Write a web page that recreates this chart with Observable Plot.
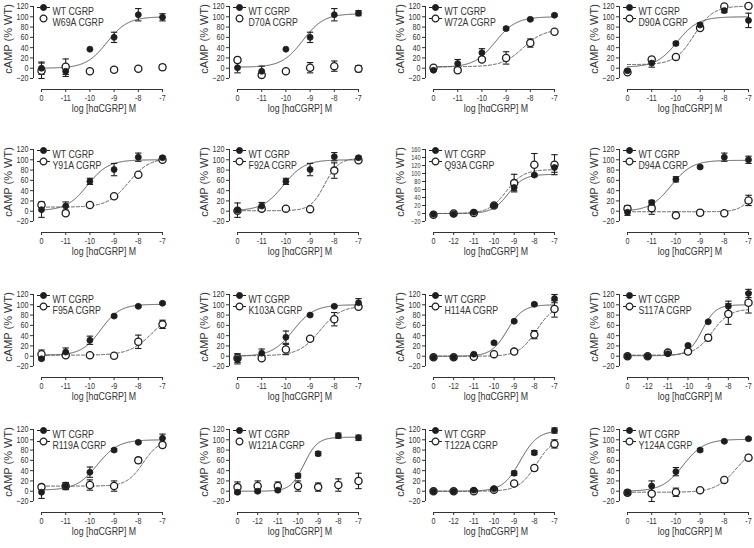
<!DOCTYPE html>
<html><head><meta charset="utf-8">
<script src="https://cdn.jsdelivr.net/npm/d3@7"></script>
<script src="https://cdn.jsdelivr.net/npm/@observablehq/plot@0.6"></script>
<style>
html,body{margin:0;padding:0;background:#fff;}
#fig{position:relative;width:754px;height:548px;overflow:hidden;background:#fff;font-family:"Liberation Sans",Arial,sans-serif;}
</style></head><body><div id="fig"></div>
<script>
// ---------- data ----------
const mutants = ["W69A","D70A","W72A","D90A","Y91A","F92A","Q93A","D94A","F95A","K103A","H114A","S117A","R119A","W121A","T122A","Y124A"];
const panelTicks = [6,6,6,6,6,6,7,6,6,6,7,7,6,7,7,6];
const panelYMax = [120,120,120,120,120,120,160,120,120,120,120,120,120,120,120,120];
const doseLabels6 = ["0","-11","-10","-9","-8","-7"];
const dosePos6 = [-12,-11,-10,-9,-8,-7];
const doseLabels7 = ["0","-12","-11","-10","-9","-8","-7"];
const dosePos7 = [-13,-12,-11,-10,-9,-8,-7];

const wtMean = [
  [0,-6,37,60,104,99],[1,-6,37,60,104,107],[-4,9,30,77,95,103],[-5,10,48,84,112,93],
  [3,10,58,81,105,104],[2,10,58,81,106,104],[-2,-1,3,20,65,96,115],[-2,17,62,86,105,100],
  [-5,8,31,78,97,103],[-5,6,37,80,97,104],[-2,-2,4,26,68,101,112],[0,0,5,21,67,97,122],
  [-2,10,37,80,95,103],[-2,0,2,30,73,108,104],[0,0,2,5,35,75,118],[-3,10,38,80,97,102]
];
const wtErr = [
  [12,10,0,10,12,7],[10,10,0,10,12,5],[2,8,8,3,2,2],[3,8,3,4,4,14],
  [15,8,6,12,8,3],[14,7,6,12,8,3],[2,2,2,3,8,3,12],[6,4,5,2,8,7],
  [2,8,8,2,2,2],[10,8,12,2,2,8],[2,2,2,2,2,2,8],[2,2,2,2,2,10,8],
  [12,6,10,3,2,8],[3,3,3,4,4,5,5],[2,2,2,2,4,4,5],[3,10,8,3,2,2]
];
const mutMean = [
  [-5,3,-6,-3,-1,2],[16,-13,-6,1,4,-1],[1,-4,17,20,49,71],[-8,17,22,78,120,121],
  [12,-4,12,29,71,100],[1,5,5,4,79,99],[-3,0,1,20,76,122,122],[5,6,-8,-3,-4,21],
  [4,2,2,1,28,62],[-4,-4,13,34,72,96],[-2,-2,-1,4,9,42,92],[0,0,7,9,36,82,104],
  [8,10,12,10,60,90],[8,10,10,10,8,12,20],[0,0,0,3,15,45,92],[-3,-5,-2,2,22,65]
];
const mutErr = [
  [15,15,2,4,2,5],[5,5,2,10,10,6],[2,3,3,12,8,2],[3,4,3,3,2,2],
  [3,3,3,2,3,2],[2,2,2,2,15,2],[2,2,2,2,22,28,25],[6,12,4,5,2,10],
  [8,2,2,2,13,8],[8,2,10,3,13,3],[2,2,2,2,2,8,16],[2,2,2,4,6,20,20],
  [5,7,10,10,5,5],[10,10,8,10,8,12,15],[2,2,2,2,3,5,8],[5,15,8,3,3,5]
];
// sigmoid fit parameters (null = no curve drawn)
const wtBottom = [0,2,2,2,1,1,0,0,2,0,0,1,2,0,0,0];
const wtTop    = [100,106,100,100,100,100,98,99,101,100,100,100,100,105,118,101];
const wtLogEC50= [-9.3,-9.3,-9.45,-9.95,-10.1,-10.1,-9.3,-10.2,-9.55,-9.7,-9.35,-9.3,-9.7,-9.7,-8.7,-9.7];
const wtHill   = [1,1,1,1,1,1,1.1,1,1.1,1,1.1,1.3,1,1.3,1,1];
const mutBottom = [null,null,3,7,8,1,0,-1,2,1,0,2,10,null,0,-2];
const mutTop    = [null,null,76,121,104,103,110,100,90,98,100,92,100,null,105,90];
const mutLogEC50= [null,null,-8.3,-9.25,-8.4,-8.4,-9.4,-6.65,-7.4,-8.6,-7.9,-8.8,-7.8,null,-7.9,-7.5];
const mutHill   = [null,null,1,1.1,1,1.5,1,1.5,0.9,1,1,1,1.3,null,1,1];

const xTitle = "log [hαCGRP] M";
const yTitle = "cAMP (% WT)";
const wtName = "WT CGRP";

// ---------- layout ----------
const W = 196, H = 140, TOP = 10, YPX = 72, XAX = 11, GAP = 8, FIRST = 41, LAST = 162;
const colLeft = [0, 196, 392, 586];
const rowTop = [6, 149, 294, 429];
const ink = "#1e1e1e", axisInk = "#333", lineInk = "#555";
const fig = document.getElementById("fig");

const capSym = {draw(ctx){ ctx.moveTo(-3.2,0); ctx.lineTo(3.2,0); }};
const legSym = (r, line) => ({draw(ctx){
  if (line) { ctx.moveTo(-6.5,0); ctx.lineTo(-r,0); ctx.moveTo(r,0); ctx.lineTo(6.5,0); }
  ctx.moveTo(r,0); ctx.arc(0,0,r,0,2*Math.PI); ctx.closePath();
}});

for (let i = 0; i < 16; i++) {
  const row = Math.floor(i/4), col = i % 4;
  const n = panelTicks[i];
  const pos = n === 6 ? dosePos6 : dosePos7;
  const labels = n === 6 ? doseLabels6 : doseLabels7;
  const yMax = panelYMax[i];
  const unitX = (n-1)/(LAST-FIRST);
  const unitY = (yMax+20)/YPX;
  const xFirst = pos[0], xLast = pos[pos.length-1];
  const xAxisPos = xFirst - GAP*unitX;
  const yAxisPos = -20 - XAX*unitY;
  const yTicks = d3.range(-20, yMax+1, 20);
  const yTickFont = yMax > 120 ? 7 : 9;

  const wt = pos.map((x,k) => ({x, y: wtMean[i][k], e: wtErr[i][k]}));
  const mut = pos.map((x,k) => ({x, y: mutMean[i][k], e: mutErr[i][k]}));
  const bars = wt.concat(mut).filter(d => d.e > 0);
  const caps = bars.flatMap(d => [{x: d.x, y: d.y - d.e}, {x: d.x, y: d.y + d.e}]);
  const curve = (b,t,ec,h) => d3.range(0,241).map(k => {
    const x = xFirst + (xLast-xFirst)*k/240;
    return {x, y: b + (t-b)/(1 + Math.pow(10, (ec - x)*h))};
  });
  const hasMutFit = mutBottom[i] !== null;

  const marks = [
    Plot.ruleX([xAxisPos], {y1: -20, y2: yMax, stroke: axisInk, strokeWidth: 1}),
    Plot.ruleY([yAxisPos], {x1: xFirst, x2: xLast, stroke: axisInk, strokeWidth: 1}),
    Plot.axisY({ticks: yTicks, tickSize: 3, tickPadding: 2, fontSize: yTickFont, stroke: axisInk, fill: axisInk, label: null}),
    Plot.axisX({ticks: pos, tickFormat: d => labels[pos.indexOf(d)], tickSize: 3, tickPadding: 2, fontSize: 9, stroke: axisInk, fill: axisInk, label: null}),
    Plot.text([xTitle], {x: (xFirst+xLast)/2, frameAnchor: "bottom", dy: 22, dx: 2, fontSize: 11, fill: axisInk}),
    Plot.text([yTitle], {x: xAxisPos, y: -20 + (yMax+20)*0.55, dx: -25, rotate: -90, fontSize: 11, fill: axisInk}),
    Plot.line(curve(wtBottom[i], wtTop[i], wtLogEC50[i], wtHill[i]), {x: "x", y: "y", stroke: lineInk, strokeWidth: 1}),
    hasMutFit ? Plot.line(curve(mutBottom[i], mutTop[i], mutLogEC50[i], mutHill[i]), {x: "x", y: "y", stroke: lineInk, strokeWidth: 1, strokeDasharray: "3,2"}) : null,
    Plot.ruleX(bars, {x: "x", y1: d => d.y - d.e, y2: d => d.y + d.e, stroke: ink, strokeWidth: 1.1}),
    Plot.dot(caps, {x: "x", y: "y", symbol: capSym, fill: "none", stroke: ink, strokeWidth: 1.1}),
    Plot.dot(mut, {x: "x", y: "y", r: 3.6, fill: "white", stroke: ink, strokeWidth: 1.3}),
    Plot.dot(wt, {x: "x", y: "y", r: 3, fill: ink, stroke: ink, strokeWidth: 0.8}),
    // legend
    Plot.dot([wtName], {frameAnchor: "top-left", dx: 10, dy: 1, symbol: legSym(3, true), fill: ink, stroke: ink, strokeWidth: 1}),
    Plot.text([wtName], {frameAnchor: "top-left", dx: 19, dy: 1, textAnchor: "start", fontSize: 11, fill: axisInk}),
    Plot.dot([mutants[i]], {frameAnchor: "top-left", dx: 10, dy: 12, symbol: legSym(3.4, hasMutFit), fill: "white", stroke: ink, strokeWidth: 1.2}),
    Plot.text([mutants[i] + " CGRP"], {frameAnchor: "top-left", dx: 19, dy: 12, textAnchor: "start", fontSize: 11, fill: axisInk})
  ].filter(Boolean);

  const svg = Plot.plot({
    width: W, height: H,
    marginLeft: FIRST - GAP, marginRight: W - LAST, marginTop: TOP, marginBottom: H - (TOP + YPX + XAX),
    x: {type: "linear", domain: [xAxisPos, xLast], label: null},
    y: {type: "linear", domain: [yAxisPos, yMax], label: null},
    style: {position: "absolute", left: colLeft[col] + "px", top: (rowTop[row] - TOP) + "px",
            background: "transparent", overflow: "visible", fontFamily: "'Liberation Sans', Arial, sans-serif", maxWidth: "none"},
    marks
  });
  fig.appendChild(svg);
}

// the reference figure's lettering is horizontally condensed
fig.querySelectorAll("svg text").forEach(t => {
  const tr = t.getAttribute("transform") || "";
  if (tr.includes("rotate")) return;
  const len = t.getComputedTextLength();
  if (len > 0) {
    t.setAttribute("textLength", (len * 0.8).toFixed(2));
    t.setAttribute("lengthAdjust", "spacingAndGlyphs");
  }
});
</script></body></html>
